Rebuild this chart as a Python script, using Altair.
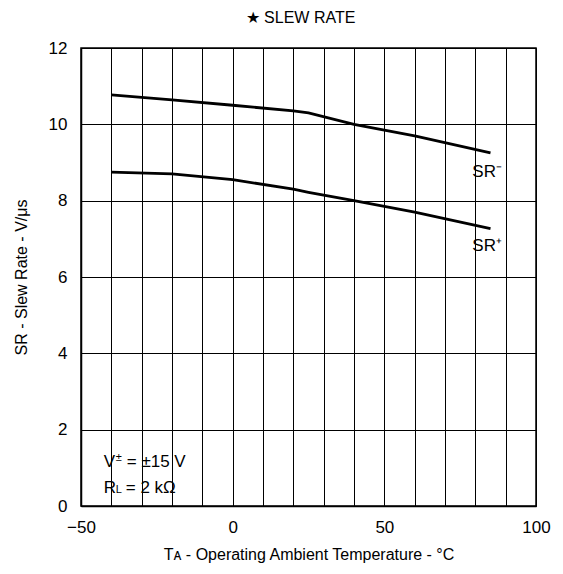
import altair as alt
import pandas as pd

temps = [-40, -20, 0, 20, 25, 40, 60, 85]
sr_minus = [10.77, 10.64, 10.5, 10.35, 10.3, 10.0, 9.7, 9.25]
sr_plus = [8.75, 8.7, 8.55, 8.3, 8.22, 8.0, 7.7, 7.27]

label_text = ["SR⁻", "SR⁺"]
label_x = [79, 79]
label_y = [8.75, 6.8]

note_text = ["V", "±", "= ±15 V", "R", "L", "= 2 kΩ"]
note_x = [-42.5, -42.5, -42.5, -42.5, -42.5, -42.5]
note_y = [1.15, 1.15, 1.15, 0.47, 0.47, 0.47]
note_dx = [0, 12, 23, 0, 12, 22]
note_dy = [0, -4, 0, 0, 2, 0]
note_size = [17, 11, 17, 17, 11, 17]

x_ticks = list(range(-50, 101, 10))
y_ticks = list(range(0, 13, 2))

FONT = "Liberation Sans"

rows = []
for t, v in zip(temps, sr_minus):
    rows.append({"T": t, "SR": v, "series": "SR-"})
for t, v in zip(temps, sr_plus):
    rows.append({"T": t, "SR": v, "series": "SR+"})
df = pd.DataFrame(rows)

labels = pd.DataFrame({"T": label_x, "SR": label_y, "text": label_text})

xscale = alt.Scale(domain=[-50, 100], nice=False, zero=False)
yscale = alt.Scale(domain=[0, 12], nice=False)

lines = alt.Chart(df).mark_line(color="black", strokeWidth=2.8).encode(
    x=alt.X("T:Q", scale=xscale,
            axis=alt.Axis(values=x_ticks, tickCount=len(x_ticks) + 4, grid=True, ticks=False,
                          labelOverlap=False, labelFlush=False,
                          labelExpr="datum.value % 50 === 0 ? datum.label : ''",
                          title="Tᴀ - Operating Ambient Temperature - °C",
                          titlePadding=11, labelPadding=13)),
    y=alt.Y("SR:Q", scale=yscale,
            axis=alt.Axis(values=y_ticks, tickCount=len(y_ticks) + 4, grid=True, ticks=False,
                          labelOverlap=False, labelFlush=False,
                          title="SR - Slew Rate - V/μs",
                          titlePadding=19, labelPadding=14)),
    detail="series:N",
)

label_marks = alt.Chart(labels).mark_text(
    align="left", baseline="middle", fontSize=17, font=FONT, color="black"
).encode(x=alt.X("T:Q", scale=xscale), y=alt.Y("SR:Q", scale=yscale), text="text:N")

note_layers = []
for txt, nx, ny, ddx, ddy, sz in zip(note_text, note_x, note_y, note_dx, note_dy, note_size):
    d = pd.DataFrame({"T": [nx], "SR": [ny], "text": [txt]})
    note_layers.append(
        alt.Chart(d).mark_text(
            align="left", baseline="middle", fontSize=sz, font=FONT, color="black",
            dx=ddx, dy=ddy
        ).encode(x=alt.X("T:Q", scale=xscale), y=alt.Y("SR:Q", scale=yscale), text="text:N")
    )

chart = alt.layer(lines, label_marks, *note_layers).properties(
    width=455,
    height=458,
    title=alt.TitleParams("★ SLEW RATE", fontSize=16, fontWeight="normal",
                          font=FONT, color="black", offset=13, dx=-8),
    autosize=alt.AutoSizeParams(type="none"),
    padding={"left": 73, "top": 40, "right": 19, "bottom": 60},
).configure_axis(
    gridColor="black", gridOpacity=1, gridWidth=1,
    domainColor="black", domainWidth=1.5,
    labelFont=FONT, labelFontSize=17, labelColor="black",
    titleFont=FONT, titleFontSize=16, titleFontWeight="normal", titleColor="black",
).configure_view(stroke="black", strokeWidth=1.5)

chart.save("out.html", embed_options={"renderer": "svg", "actions": False})
